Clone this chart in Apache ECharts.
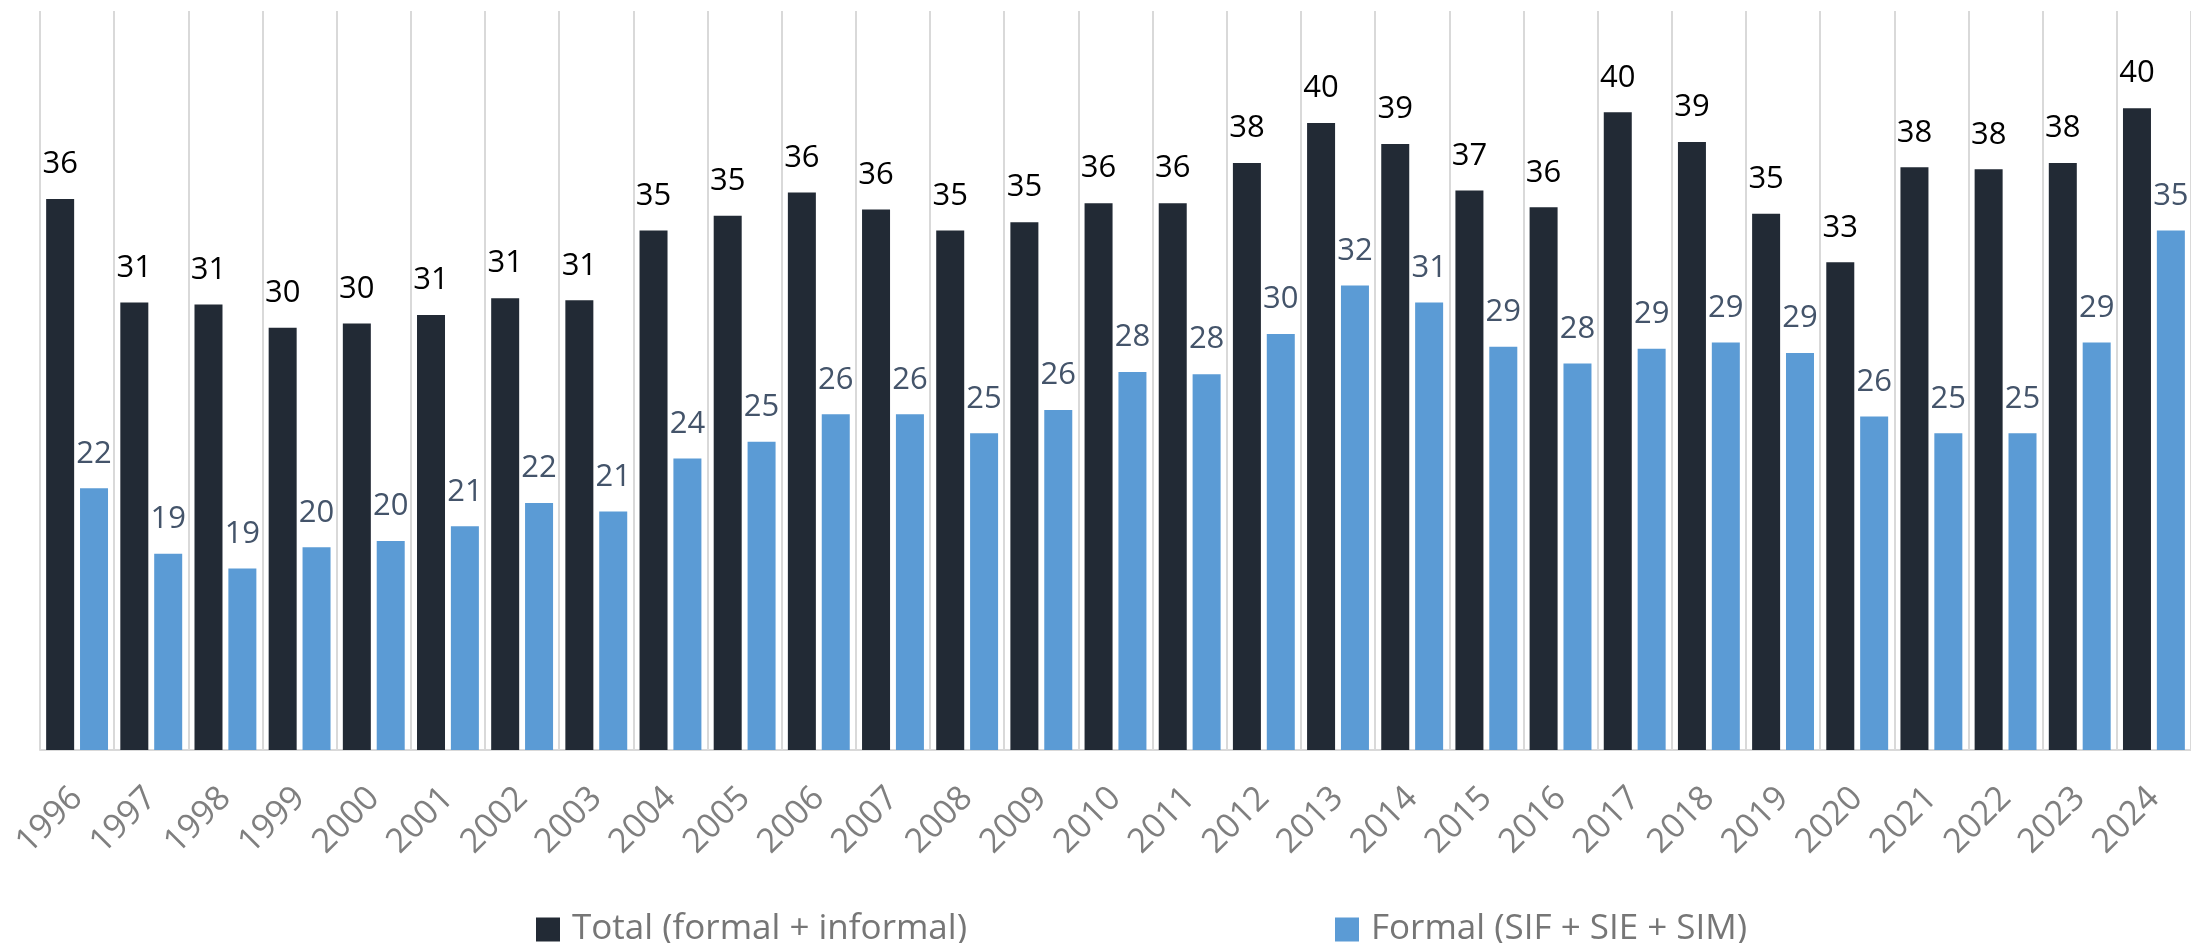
<!DOCTYPE html>
<html>
<head>
<meta charset="utf-8">
<script src="https://cdn.jsdelivr.net/npm/echarts@6/dist/echarts.min.js"></script>
<style>
  html, body { margin: 0; padding: 0; background: #fff; }
  #chart { width: 2191px; height: 943px; }
</style>
</head>
<body>
<div id="chart"></div>
<script>
// years on the x axis
const years = ['1996', '1997', '1998', '1999', '2000', '2001', '2002', '2003', '2004', '2005',
  '2006', '2007', '2008', '2009', '2010', '2011', '2012', '2013', '2014', '2015',
  '2016', '2017', '2018', '2019', '2020', '2021', '2022', '2023', '2024'];

// Total (formal + informal)
const totalValues = [36.1, 31.2, 31.1, 30.0, 30.2, 30.6, 31.4, 31.3, 34.6, 35.3,
  36.4, 35.6, 34.6, 35.0, 35.9, 35.9, 37.8, 39.7, 38.7, 36.5,
  35.7, 40.2, 38.8, 35.4, 33.1, 37.6, 37.5, 37.8, 40.4];

// Formal (SIF + SIE + SIM)
const formalValues = [22.4, 19.3, 18.6, 19.6, 19.9, 20.6, 21.7, 21.3, 23.8, 24.6,
  25.9, 25.9, 25.0, 26.1, 27.9, 27.8, 29.7, 32.0, 31.2, 29.1,
  28.3, 29.0, 29.3, 28.8, 25.8, 25.0, 25.0, 29.3, 34.6];

const seriesNames = ['Total (formal + informal)', 'Formal (SIF + SIE + SIM)'];
const seriesColors = ['#222A35', '#5B9BD5'];
const labelColors = ['#000000', '#44546A'];

const font = "'Open Sans', sans-serif";
const chart = echarts.init(document.getElementById('chart'));

// one legend per item so each sits where the original puts it
function legendFor(i, left) {
  return {
    data: [seriesNames[i]],
    left: left,
    top: 907,
    icon: 'rect',
    itemWidth: 24,
    itemHeight: 24,
    selectedMode: false,
    textStyle: { fontFamily: font, fontSize: 35, color: '#767676', padding: [0, 0, 0, 7] }
  };
}

const option = {
  animation: false,
  backgroundColor: '#ffffff',
  grid: { left: 40, top: 11, width: 2166.6, height: 739 },
  legend: [legendFor(0, 531), legendFor(1, 1330)],
  xAxis: {
    type: 'category',
    data: years,
    boundaryGap: true,
    axisLine: { lineStyle: { color: '#D9D9D9', width: 2 } },
    axisTick: { show: false },
    axisLabel: {
      interval: 0,
      rotate: 45,
      margin: 43,
      fontFamily: font,
      fontSize: 34,
      color: '#7F7F7F'
    },
    splitLine: { show: true, interval: 0, lineStyle: { color: '#D9D9D9', width: 2 } }
  },
  yAxis: { type: 'value', min: 10, max: 45, show: false },
  series: [totalValues, formalValues].map((vals, i) => ({
    name: seriesNames[i],
    type: 'bar',
    data: vals,
    barWidth: 28,
    barGap: '21%',
    itemStyle: { color: seriesColors[i] },
    label: {
      show: true,
      position: 'top',
      distance: 19,
      fontFamily: font,
      fontSize: 31,
      color: labelColors[i],
      formatter: p => Math.round(p.value)
    }
  }))
};

chart.setOption(option);
</script>
</body>
</html>
